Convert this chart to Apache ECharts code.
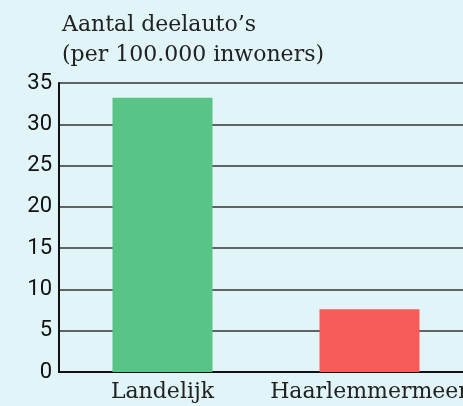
<!DOCTYPE html>
<html>
<head>
<meta charset="utf-8">
<script src="https://cdn.jsdelivr.net/npm/echarts@6.0.0/dist/echarts.min.js"></script>
<style>
  html, body { margin: 0; padding: 0; background: #e1f4f7; }
  #chart { width: 463px; height: 406px; }
</style>
</head>
<body>
<div id="chart"></div>
<script>
const categories = ['Landelijk', 'Haarlemmermeer']
const values = [33.2, 7.6]
const barColors = ['#58c486', '#f75c59']

const chart = echarts.init(document.getElementById('chart'))
chart.setOption({
  backgroundColor: '#e1f4f7',
  animation: false,
  title: {
    text: 'Aantal deelauto’s\n(per 100.000 inwoners)',
    left: 57,
    top: 5,
    textStyle: {
      fontFamily: 'DejaVu Serif',
      fontWeight: 'normal',
      fontSize: 22,
      lineHeight: 30,
      color: '#222'
    }
  },
  grid: { left: 59, top: 83, height: 289, width: 414, containLabel: false, outerBoundsMode: 'none' },
  xAxis: {
    type: 'category',
    data: categories,
    axisLine: { lineStyle: { color: '#111', width: 2 } },
    axisTick: { show: false },
    axisLabel: {
      interval: 0,
      hideOverlap: false,
      fontFamily: 'DejaVu Serif',
      fontSize: 22,
      color: '#222',
      margin: 9
    }
  },
  yAxis: {
    type: 'value',
    min: 0,
    max: 35,
    interval: 5,
    axisLine: { show: true, lineStyle: { color: '#111', width: 2 } },
    axisTick: { show: false },
    splitLine: { lineStyle: { color: '#333', width: 1.5 } },
    axisLabel: {
      fontFamily: 'Roboto',
      fontSize: 22,
      color: '#111',
      margin: 7
    }
  },
  series: [{
    type: 'bar',
    barWidth: 100,
    data: values.map((v, i) => ({ value: v, itemStyle: { color: barColors[i] } }))
  }]
})
</script>
</body>
</html>
